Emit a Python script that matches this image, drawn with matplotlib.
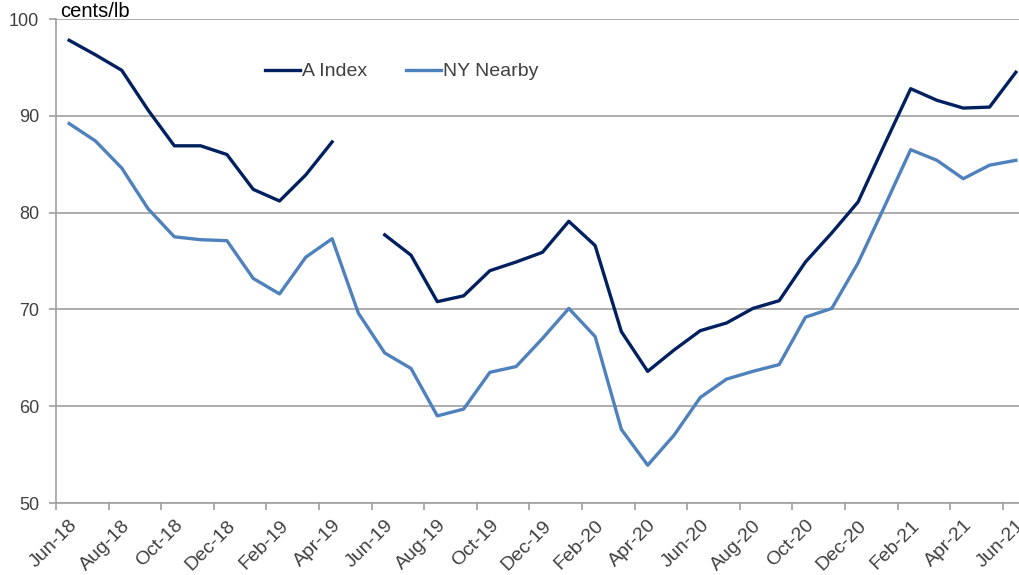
import numpy as np
import matplotlib.pyplot as plt

plt.rcParams['font.family'] = ['Liberation Sans', 'DejaVu Sans']

months = ['Jun-18', 'Jul-18', 'Aug-18', 'Sep-18', 'Oct-18', 'Nov-18', 'Dec-18',
          'Jan-19', 'Feb-19', 'Mar-19', 'Apr-19', 'May-19', 'Jun-19', 'Jul-19',
          'Aug-19', 'Sep-19', 'Oct-19', 'Nov-19', 'Dec-19', 'Jan-20', 'Feb-20',
          'Mar-20', 'Apr-20', 'May-20', 'Jun-20', 'Jul-20', 'Aug-20', 'Sep-20',
          'Oct-20', 'Nov-20', 'Dec-20', 'Jan-21', 'Feb-21', 'Mar-21', 'Apr-21',
          'May-21', 'Jun-21']

# A Index (May-19 missing)
a_index = [97.8, 96.3, 94.7, 90.6, 86.9, 86.9, 86.0, 82.4, 81.2, 83.9, 87.3,
           np.nan, 77.7, 75.6, 70.8, 71.4, 74.0, 74.9, 75.9, 79.1, 76.6,
           67.7, 63.6, 65.8, 67.8, 68.6, 70.1, 70.9, 74.9, 77.9, 81.1,
           87.0, 92.8, 91.6, 90.8, 90.9, 94.5]

ny_nearby = [89.2, 87.4, 84.6, 80.4, 77.5, 77.2, 77.1, 73.2, 71.6, 75.4, 77.3,
             69.6, 65.5, 63.9, 59.0, 59.7, 63.5, 64.1, 67.0, 70.1, 67.2,
             57.6, 53.9, 57.0, 60.9, 62.8, 63.6, 64.3, 69.2, 70.1, 74.8,
             80.6, 86.5, 85.4, 83.5, 84.9, 85.4]

W, H = 1019, 575
fig = plt.figure(figsize=(W / 100, H / 100), dpi=100)
# axes runs past the right edge of the picture, like the cropped original
ax = fig.add_axes([56 / W, (H - 503) / H, (1029 - 56) / W, (503 - 19) / H])

x = np.arange(len(months))
ax.plot(x, a_index, color='#002060', lw=2.4, label='A Index')
ax.plot(x, ny_nearby, color='#4F81BD', lw=2.4, label='NY Nearby')

ax.set_xlim(-0.5, 36.5)
ax.set_ylim(50, 100)
ax.set_yticks([50, 60, 70, 80, 90, 100])
ax.grid(axis='y', color='#A0A0A0', lw=1.2)
ax.set_axisbelow(True)

# tick marks between categories, labels on every second month
ax.set_xticks(np.arange(-0.5, 37, 2))
ax.set_xticklabels([])
ax.set_xticks(x[::2], minor=True)
ax.set_xticklabels(months[::2], minor=True, rotation=45, ha='right',
                   va='top', rotation_mode='anchor')
ax.tick_params(axis='x', which='major', length=5, color='#A0A0A0', width=1.2)
ax.tick_params(axis='x', which='minor', length=0, pad=10, labelsize=14,
               labelcolor='#404040')
ax.tick_params(axis='y', length=5, color='#A0A0A0', width=1.2, pad=7,
               labelsize=13, labelcolor='#404040')

for s in ['top', 'right']:
    ax.spines[s].set_visible(False)
for s in ['left', 'bottom']:
    ax.spines[s].set_color('#A0A0A0')
    ax.spines[s].set_linewidth(1.2)

fig.text(60 / W, (H - 17) / H, 'cents/lb', fontsize=14.5, color='#000000',
         va='baseline', ha='left')

ax.legend(loc='upper left', bbox_to_anchor=((257 - 56) / 973, (503 - 55) / 484),
          ncol=2, frameon=False, fontsize=14, handlelength=1.8,
          handletextpad=0.1, columnspacing=2.0, labelcolor='#404040',
          borderaxespad=0)

fig.savefig('out.png', dpi=100)
